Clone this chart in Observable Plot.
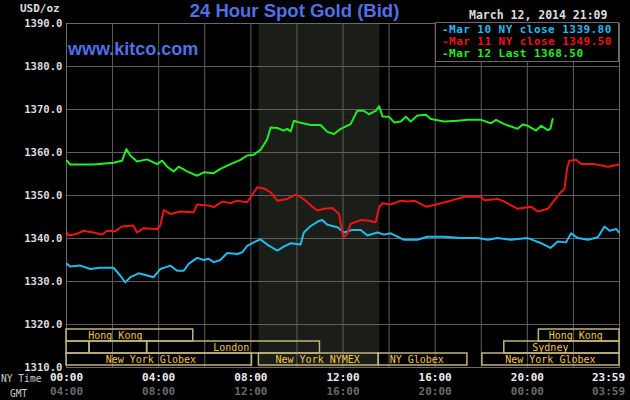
<!DOCTYPE html>
<html><head><meta charset="utf-8">
<script src="https://cdn.jsdelivr.net/npm/d3@7"></script>
<script src="https://cdn.jsdelivr.net/npm/@observablehq/plot@0.6"></script>
<style>
html,body{margin:0;padding:0;background:#000;}
#wrap{position:relative;width:630px;height:400px;background:#000;overflow:hidden;}
#wrap svg{position:absolute;left:0;top:0;}
.t{position:absolute;white-space:pre;}
.mono{font-family:"DejaVu Sans Mono",monospace;}
</style></head><body><div id="wrap"></div>
<script>
// ---- data ----
const seriesNames = ["Mar 10 NY close", "Mar 11 NY close", "Mar 12 Last"];
const seriesLast = ["1339.80", "1349.50", "1368.50"];
const seriesColors = ["#22bbee", "#ee1414", "#22ee22"];

// [hour of NY day, USD/oz]
const mar10 = [[0.02,1334.1],[0.16,1333.5],[0.60,1333.7],[1.03,1332.9],[1.47,1333.2],[2.04,1333.2],[2.33,1331.4],[2.55,1329.8],[2.77,1331.0],[3.13,1331.9],[3.50,1331.4],[3.78,1331.0],[4.07,1332.9],[4.51,1333.7],[4.80,1332.5],[5.09,1332.5],[5.30,1334.1],[5.67,1335.5],[5.96,1335.0],[6.17,1335.3],[6.39,1334.5],[6.68,1335.0],[6.97,1336.6],[7.41,1336.4],[7.63,1336.8],[7.84,1338.3],[8.28,1339.5],[8.42,1339.8],[8.71,1338.6],[9.15,1337.2],[9.43,1338.1],[9.73,1338.9],[10.16,1338.6],[10.30,1341.4],[10.60,1342.9],[10.92,1344.0],[11.10,1344.3],[11.32,1343.2],[11.76,1342.6],[12.04,1341.4],[12.41,1342.0],[12.77,1342.0],[13.06,1340.7],[13.50,1341.4],[13.78,1340.9],[14.07,1341.2],[14.65,1339.7],[15.23,1339.7],[15.67,1340.4],[16.39,1340.4],[17.12,1340.1],[17.84,1340.1],[18.28,1339.7],[18.71,1340.1],[19.29,1339.7],[20.02,1340.1],[20.60,1338.9],[21.00,1337.8],[21.32,1339.3],[21.68,1339.1],[21.90,1341.2],[22.19,1340.1],[22.63,1339.7],[23.06,1340.3],[23.35,1342.8],[23.57,1341.8],[23.86,1342.2],[23.98,1341.4]];
const mar11 = [[0.02,1341.4],[0.09,1340.7],[0.45,1341.1],[0.74,1341.8],[1.17,1341.4],[1.54,1340.9],[1.76,1341.8],[2.12,1341.7],[2.41,1342.8],[2.91,1343.0],[3.06,1341.4],[3.35,1342.4],[3.93,1342.2],[4.07,1343.0],[4.22,1346.6],[4.51,1345.7],[4.94,1346.3],[5.52,1346.1],[5.67,1347.9],[6.25,1347.6],[6.39,1347.3],[6.76,1348.6],[7.12,1348.2],[7.41,1348.8],[7.84,1348.4],[8.28,1351.9],[8.64,1351.5],[8.86,1350.7],[9.15,1348.8],[9.58,1349.2],[9.94,1350.2],[10.16,1349.6],[10.38,1348.8],[10.67,1347.4],[10.89,1346.5],[11.17,1346.9],[11.54,1347.1],[11.83,1345.7],[11.93,1342.6],[12.02,1340.3],[12.19,1341.1],[12.33,1343.4],[12.77,1344.3],[13.06,1344.2],[13.42,1343.8],[13.57,1347.3],[13.71,1348.2],[14.07,1347.9],[14.51,1348.8],[14.80,1348.6],[15.09,1348.8],[15.60,1347.4],[16.03,1347.9],[16.68,1348.8],[17.26,1349.7],[17.98,1349.7],[18.13,1348.9],[18.71,1349.2],[19.00,1348.6],[19.58,1346.9],[20.16,1347.4],[20.45,1346.3],[20.89,1346.9],[21.10,1348.4],[21.39,1350.4],[21.61,1351.5],[21.73,1356.5],[21.83,1358.1],[22.12,1358.3],[22.33,1357.3],[22.91,1357.3],[23.50,1356.7],[23.98,1357.2]];
const mar12 = [[0.02,1358.1],[0.16,1357.2],[1.17,1357.2],[2.04,1357.6],[2.41,1358.1],[2.60,1360.8],[2.77,1359.3],[3.06,1357.9],[3.50,1358.4],[3.93,1357.3],[4.15,1358.1],[4.37,1356.7],[4.65,1355.6],[4.87,1356.7],[5.23,1355.6],[5.67,1354.6],[5.96,1355.4],[6.39,1355.2],[6.68,1356.2],[7.12,1357.3],[7.55,1358.3],[7.84,1359.3],[8.13,1359.5],[8.42,1360.6],[8.71,1363.1],[8.86,1365.8],[9.15,1365.7],[9.43,1365.1],[9.58,1365.5],[9.73,1364.9],[9.87,1367.4],[10.16,1366.9],[10.60,1366.4],[11.03,1366.4],[11.32,1364.8],[11.61,1364.3],[11.90,1365.5],[12.33,1366.6],[12.62,1369.7],[12.90,1369.7],[13.12,1368.9],[13.42,1369.7],[13.57,1370.8],[13.71,1368.4],[14.00,1368.3],[14.22,1367.0],[14.51,1367.2],[14.73,1368.3],[14.94,1367.2],[15.23,1368.6],[15.60,1368.8],[15.81,1367.8],[16.39,1367.2],[16.97,1367.4],[17.41,1367.6],[17.99,1367.6],[18.42,1366.8],[18.64,1367.6],[19.00,1366.6],[19.58,1365.5],[19.80,1366.5],[20.02,1366.2],[20.38,1365.1],[20.60,1366.2],[20.89,1365.2],[21.00,1365.5],[21.10,1367.8]];

const yTicks = [1310, 1320, 1330, 1340, 1350, 1360, 1370, 1380, 1390];
const gridHours = [0, 2, 4, 6, 8, 10, 12, 14, 16, 18, 20, 22, 24];
const xTickHours = [0, 4, 8, 12, 16, 20, 23.983];
const nyTimeLabels = ["00:00", "04:00", "08:00", "12:00", "16:00", "20:00", "23:59"];
const gmtLabels = ["04:00", "08:00", "12:00", "16:00", "20:00", "00:00", "03:59"];
const nymexHours = [8.35, 13.6];

// market sessions: label, start hour, end hour, row, label centre hour
const sessionLabels = ["Hong Kong", "Hong Kong", "", "", "London", "Sydney", "New York Globex", "New York NYMEX", "NY Globex", "New York Globex"];
const sessionStart  = [0, 20.5, 0, 1, 3.5, 19, 0, 8.35, 13.55, 18.05];
const sessionEnd    = [5.5, 24, 1, 3.5, 11, 24, 8.05, 13.55, 17.4, 24];
const sessionRow    = [0, 0, 1, 1, 1, 1, 2, 2, 2, 2];
const sessionLabelAt = [2.12, 22.1, 0.5, 2.25, 7.15, 21.0, 3.66, 10.9, 15.2, 21.0];

const titleText = "24 Hour Spot Gold (Bid)";
const siteText = "www.kitco.com";
const unitText = "USD/oz";
const stampText = "March 12, 2014 21:09";

// ---- build ----
const rows = [mar10, mar11, mar12].flatMap((pts, i) => pts.map(([h, v]) => ({h, v, s: seriesNames[i]})));
const sessions = sessionLabels.map((label, i) => ({label, start: sessionStart[i], end: sessionEnd[i], row: sessionRow[i], at: sessionLabelAt[i]}));
const mono = "DejaVu Sans Mono";
const wrap = document.getElementById("wrap");

const main = Plot.plot({
  width: 630, height: 400,
  marginLeft: 66, marginRight: 11, marginTop: 23, marginBottom: 33,
  style: {background: "#000", color: "#dddddd", fontFamily: mono, fontSize: "11px", fontWeight: "bold"},
  x: {domain: [0, 24], axis: null},
  y: {domain: [1310, 1390]},
  color: {domain: seriesNames, range: seriesColors},
  marks: [
    Plot.rect([nymexHours], {x1: d => d[0], x2: d => d[1], fill: "#1b1d19"}),
    Plot.ruleX(gridHours, {stroke: "#5e5e5e", strokeWidth: 1}),
    Plot.ruleY(yTicks, {stroke: "#5e5e5e", strokeWidth: 1}),
    Plot.frame({stroke: "#6a6a6a"}),
    Plot.axisY(yTicks, {tickSize: 0, tickPadding: 4, tickFormat: d => d.toFixed(1), fill: "#dddddd", fontWeight: "bold", fontSize: 10.6, label: null}),
    Plot.line(rows, {x: "h", y: "v", z: "s", stroke: "s", strokeWidth: 2}),
    Plot.text(xTickHours.slice(0, -1), {x: d => d, text: (d, i) => nyTimeLabels[i], frameAnchor: "bottom", dy: 13, fill: "#eeeeee", fontWeight: "bold"}),
    Plot.text(xTickHours.slice(-1), {x: d => d, text: () => nyTimeLabels[nyTimeLabels.length - 1], frameAnchor: "bottom", textAnchor: "end", dx: 6, dy: 13, fill: "#eeeeee", fontWeight: "bold"}),
    Plot.text(xTickHours.slice(0, -1), {x: d => d, text: (d, i) => gmtLabels[i], frameAnchor: "bottom", dy: 27, fill: "#6a6a6a", fontWeight: "bold"}),
    Plot.text(xTickHours.slice(-1), {x: d => d, text: () => gmtLabels[gmtLabels.length - 1], frameAnchor: "bottom", textAnchor: "end", dx: 6, dy: 27, fill: "#6a6a6a", fontWeight: "bold"})
  ]
});
wrap.appendChild(main);

const overlay = Plot.plot({
  width: 630, height: 400,
  marginLeft: 66, marginRight: 11, marginTop: 328, marginBottom: 34,
  style: {background: "transparent", fontFamily: mono, fontSize: "10px"},
  x: {domain: [0, 24], axis: null},
  y: {domain: [0, 1, 2], type: "band", padding: 0, axis: null},
  marks: [
    Plot.barX(sessions, {x1: "start", x2: "end", y: "row", fill: "none", stroke: "#c4b27c", strokeWidth: 1.5, inset: 0}),
    Plot.text(sessions.filter(d => d.label), {x: "at", y: "row", text: "label", fill: "#f2c64a", fontWeight: "normal"})
  ]
});
wrap.appendChild(overlay);

function addText(txt, css, cls) {
  const d = document.createElement("div");
  d.className = "t " + (cls || "");
  d.textContent = txt;
  d.setAttribute("style", css);
  wrap.appendChild(d);
  return d;
}
addText(titleText, "left:0;top:2px;width:589px;text-align:center;font:bold 18.5px 'Liberation Sans',Arial,sans-serif;line-height:18px;color:#4f70e6;");
addText(siteText, "left:68px;top:40px;font:bold 18px 'Liberation Sans',Arial,sans-serif;line-height:18px;color:#4f70e6;");
addText(unitText, "left:20px;top:3px;font:bold 11px " + mono + ";line-height:11px;color:#dddddd;", "mono");
addText(stampText, "left:469px;top:9px;font:bold 11.5px " + mono + ";line-height:12px;color:#dddddd;", "mono");
addText("NY Time", "left:1px;top:374px;font:9.6px " + mono + ";line-height:10px;color:#cccccc;", "mono");
addText("GMT", "left:10px;top:389px;font:9.6px " + mono + ";line-height:10px;color:#cccccc;", "mono");

const box = document.createElement("div");
box.setAttribute("style", "position:absolute;left:435px;top:22px;width:184px;height:40px;box-sizing:border-box;background:#000;border:1px solid #6a6a6a;");
wrap.appendChild(box);
seriesNames.forEach((name, i) => {
  addText("-" + name + " " + seriesLast[i], "left:442px;top:" + (24 + 12 * i) + "px;font:bold 11px " + mono + ";letter-spacing:0.45px;line-height:11px;color:" + seriesColors[i] + ";", "mono");
});
</script>
</body></html>
